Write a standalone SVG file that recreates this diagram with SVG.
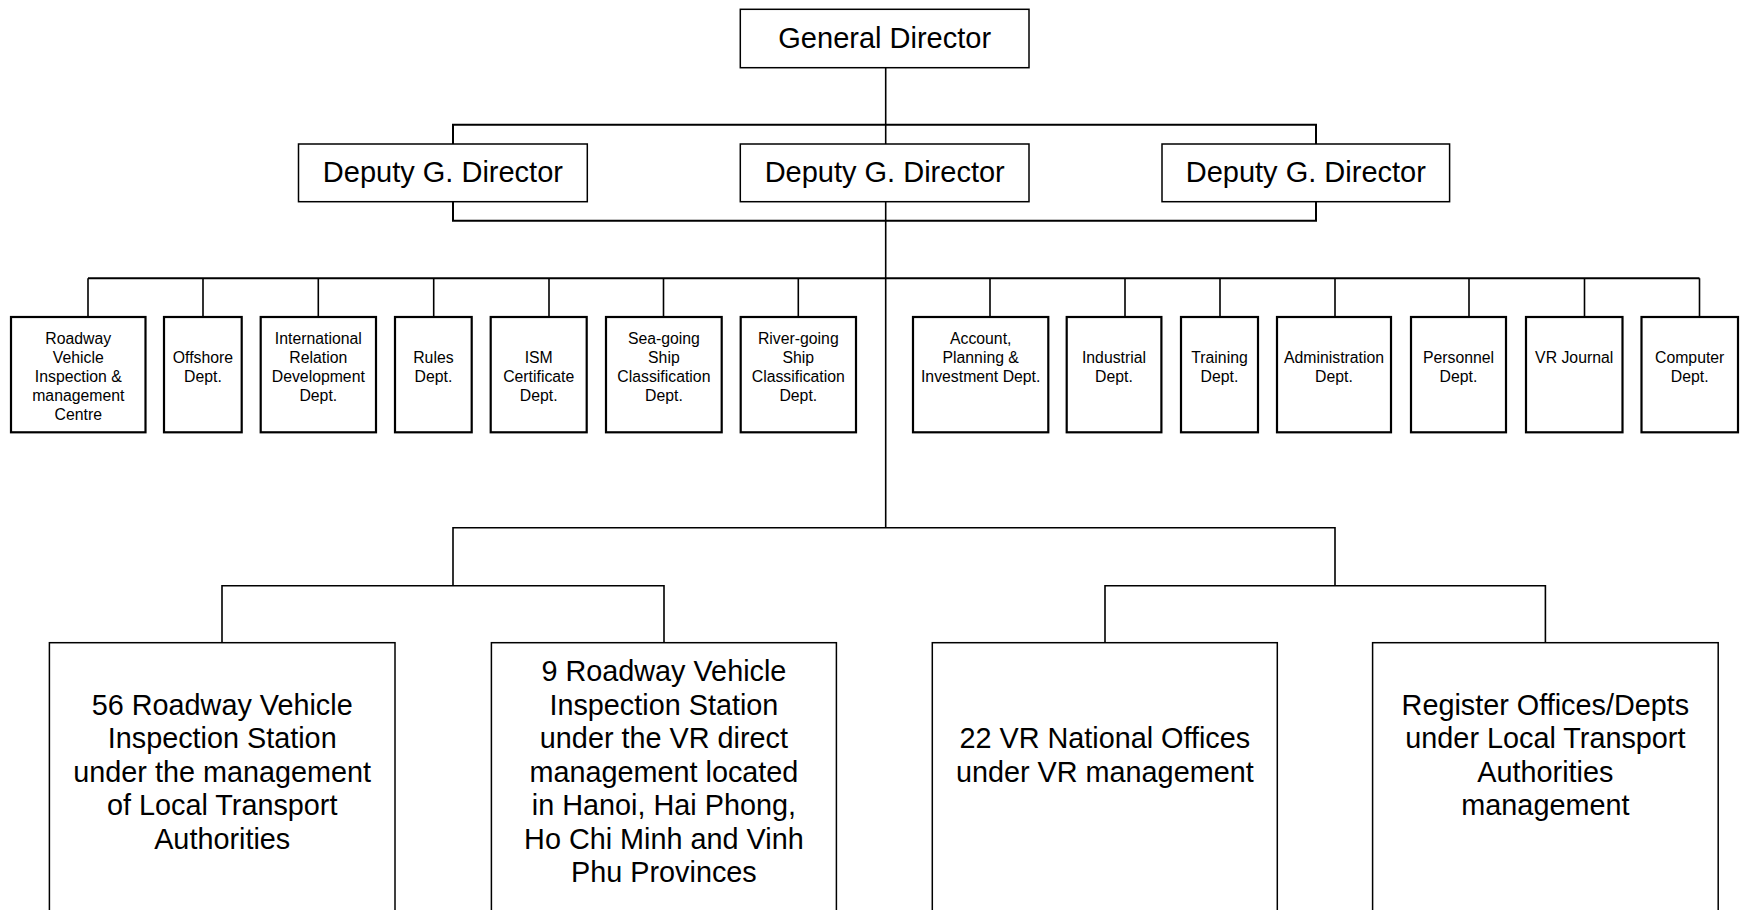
<svg xmlns="http://www.w3.org/2000/svg" width="1762" height="910" viewBox="0 0 1762 910">
<style>
  .box{fill:#fff;stroke:#000;stroke-width:1.5}
  .dept{fill:#fff;stroke:#000;stroke-width:2.2}
  .big{font-family:"Liberation Sans",Arial,sans-serif;font-size:29px;fill:#000;text-anchor:middle}
  .mid{font-family:"Liberation Sans",Arial,sans-serif;font-size:28.8px;fill:#000;text-anchor:middle}
  .sm{font-family:"Liberation Sans",Arial,sans-serif;font-size:15.8px;fill:#000;text-anchor:middle}
  .ln{fill:none;stroke:#000;stroke-width:1.6}
  .ln2{fill:none;stroke:#000;stroke-width:2}
</style>
<rect width="1762" height="910" fill="#fff"/>
<g id="connectors">
  <path class="ln" d="M885.7 67.7V144"/>
  <path class="ln2" d="M453 144V124.7H1316V144"/>
  <path class="ln2" d="M453 201.7V220.7H1316V201.7"/>
  <path class="ln" d="M885.7 201.7V527.7"/>
  <path class="ln2" d="M88 278.3H1699.5"/>
  <path class="ln" d="M88 278.3V317M203 278.3V317M318.3 278.3V317M433.7 278.3V317M549 278.3V317M663.5 278.3V317M798.3 278.3V317M990 278.3V317M1125 278.3V317M1220 278.3V317M1335 278.3V317M1469 278.3V317M1584.5 278.3V317M1699.5 278.3V317"/>
  <path class="ln" d="M453 585.7V527.7H1335V585.7"/>
  <path class="ln" d="M222 642.7V585.7H664V642.7"/>
  <path class="ln" d="M1105 642.7V585.7H1545.4V642.7"/>
</g>
<g id="general-director">
  <rect class="box" x="740.3" y="9.3" width="288.7" height="58.4"/>
  <text class="big" x="884.7" y="48.3">General Director</text>
</g>
<g id="deputy-1">
  <rect class="box" x="298.5" y="144" width="288.8" height="57.7"/>
  <text class="big" x="442.9" y="182">Deputy G. Director</text>
</g>
<g id="deputy-2">
  <rect class="box" x="740.3" y="144" width="288.7" height="57.7"/>
  <text class="big" x="884.7" y="182">Deputy G. Director</text>
</g>
<g id="deputy-3">
  <rect class="box" x="1162" y="144" width="287.6" height="57.7"/>
  <text class="big" x="1305.8" y="182">Deputy G. Director</text>
</g>
<g id="dept-roadway">
  <rect class="dept" x="11" y="317" width="134.5" height="115.3"/>
  <text class="sm" x="78.3"><tspan x="78.3" y="343.5">Roadway</tspan><tspan x="78.3" y="362.5">Vehicle</tspan><tspan x="78.3" y="381.5">Inspection &amp;</tspan><tspan x="78.3" y="400.5">management</tspan><tspan x="78.3" y="419.5">Centre</tspan></text>
</g>
<g id="dept-offshore">
  <rect class="dept" x="164" y="317" width="77.7" height="115.3"/>
  <text class="sm"><tspan x="202.9" y="362.5">Offshore</tspan><tspan x="202.9" y="381.5">Dept.</tspan></text>
</g>
<g id="dept-international">
  <rect class="dept" x="260.7" y="317" width="115.3" height="115.3"/>
  <text class="sm"><tspan x="318.3" y="343.5">International</tspan><tspan x="318.3" y="362.5">Relation</tspan><tspan x="318.3" y="381.5">Development</tspan><tspan x="318.3" y="400.5">Dept.</tspan></text>
</g>
<g id="dept-rules">
  <rect class="dept" x="395" y="317" width="76.7" height="115.3"/>
  <text class="sm"><tspan x="433.4" y="362.5">Rules</tspan><tspan x="433.4" y="381.5">Dept.</tspan></text>
</g>
<g id="dept-ism">
  <rect class="dept" x="490.7" y="317" width="96" height="115.3"/>
  <text class="sm"><tspan x="538.7" y="362.5">ISM</tspan><tspan x="538.7" y="381.5">Certificate</tspan><tspan x="538.7" y="400.5">Dept.</tspan></text>
</g>
<g id="dept-seagoing">
  <rect class="dept" x="606" y="317" width="115.7" height="115.3"/>
  <text class="sm"><tspan x="663.9" y="343.5">Sea-going</tspan><tspan x="663.9" y="362.5">Ship</tspan><tspan x="663.9" y="381.5">Classification</tspan><tspan x="663.9" y="400.5">Dept.</tspan></text>
</g>
<g id="dept-rivergoing">
  <rect class="dept" x="740.7" y="317" width="115.3" height="115.3"/>
  <text class="sm"><tspan x="798.3" y="343.5">River-going</tspan><tspan x="798.3" y="362.5">Ship</tspan><tspan x="798.3" y="381.5">Classification</tspan><tspan x="798.3" y="400.5">Dept.</tspan></text>
</g>
<g id="dept-account">
  <rect class="dept" x="913" y="317" width="135.3" height="115.3"/>
  <text class="sm"><tspan x="980.7" y="343.5">Account,</tspan><tspan x="980.7" y="362.5">Planning &amp;</tspan><tspan x="980.7" y="381.5">Investment Dept.</tspan></text>
</g>
<g id="dept-industrial">
  <rect class="dept" x="1066.7" y="317" width="94.7" height="115.3"/>
  <text class="sm"><tspan x="1114" y="362.5">Industrial</tspan><tspan x="1114" y="381.5">Dept.</tspan></text>
</g>
<g id="dept-training">
  <rect class="dept" x="1181" y="317" width="77" height="115.3"/>
  <text class="sm"><tspan x="1219.5" y="362.5">Training</tspan><tspan x="1219.5" y="381.5">Dept.</tspan></text>
</g>
<g id="dept-administration">
  <rect class="dept" x="1277" y="317" width="114" height="115.3"/>
  <text class="sm"><tspan x="1334" y="362.5">Administration</tspan><tspan x="1334" y="381.5">Dept.</tspan></text>
</g>
<g id="dept-personnel">
  <rect class="dept" x="1411" y="317" width="95" height="115.3"/>
  <text class="sm"><tspan x="1458.5" y="362.5">Personnel</tspan><tspan x="1458.5" y="381.5">Dept.</tspan></text>
</g>
<g id="dept-vrjournal">
  <rect class="dept" x="1526" y="317" width="96.5" height="115.3"/>
  <text class="sm"><tspan x="1574.2" y="362.5">VR Journal</tspan></text>
</g>
<g id="dept-computer">
  <rect class="dept" x="1641.5" y="317" width="96.5" height="115.3"/>
  <text class="sm"><tspan x="1689.7" y="362.5">Computer</tspan><tspan x="1689.7" y="381.5">Dept.</tspan></text>
</g>
<g id="station-56">
  <rect class="box" x="49.4" y="642.7" width="345.6" height="300"/>
  <text class="mid"><tspan x="222.2" y="714.5">56 Roadway Vehicle</tspan><tspan x="222.2" y="748">Inspection Station</tspan><tspan x="222.2" y="781.5">under the management</tspan><tspan x="222.2" y="815">of Local Transport</tspan><tspan x="222.2" y="848.5">Authorities</tspan></text>
</g>
<g id="station-9">
  <rect class="box" x="491.4" y="642.7" width="345" height="300"/>
  <text class="mid"><tspan x="663.9" y="681">9 Roadway Vehicle</tspan><tspan x="663.9" y="714.5">Inspection Station</tspan><tspan x="663.9" y="748">under the VR direct</tspan><tspan x="663.9" y="781.5">management located</tspan><tspan x="663.9" y="815">in Hanoi, Hai Phong,</tspan><tspan x="663.9" y="848.5">Ho Chi Minh and Vinh</tspan><tspan x="663.9" y="882">Phu Provinces</tspan></text>
</g>
<g id="national-offices">
  <rect class="box" x="932.3" y="642.7" width="345" height="300"/>
  <text class="mid"><tspan x="1104.8" y="748">22 VR National Offices</tspan><tspan x="1104.8" y="781.5">under VR management</tspan></text>
</g>
<g id="register-offices">
  <rect class="box" x="1372.6" y="642.7" width="345.6" height="300"/>
  <text class="mid"><tspan x="1545.4" y="714.5">Register Offices/Depts</tspan><tspan x="1545.4" y="748">under Local Transport</tspan><tspan x="1545.4" y="781.5">Authorities</tspan><tspan x="1545.4" y="815">management</tspan></text>
</g>
</svg>
